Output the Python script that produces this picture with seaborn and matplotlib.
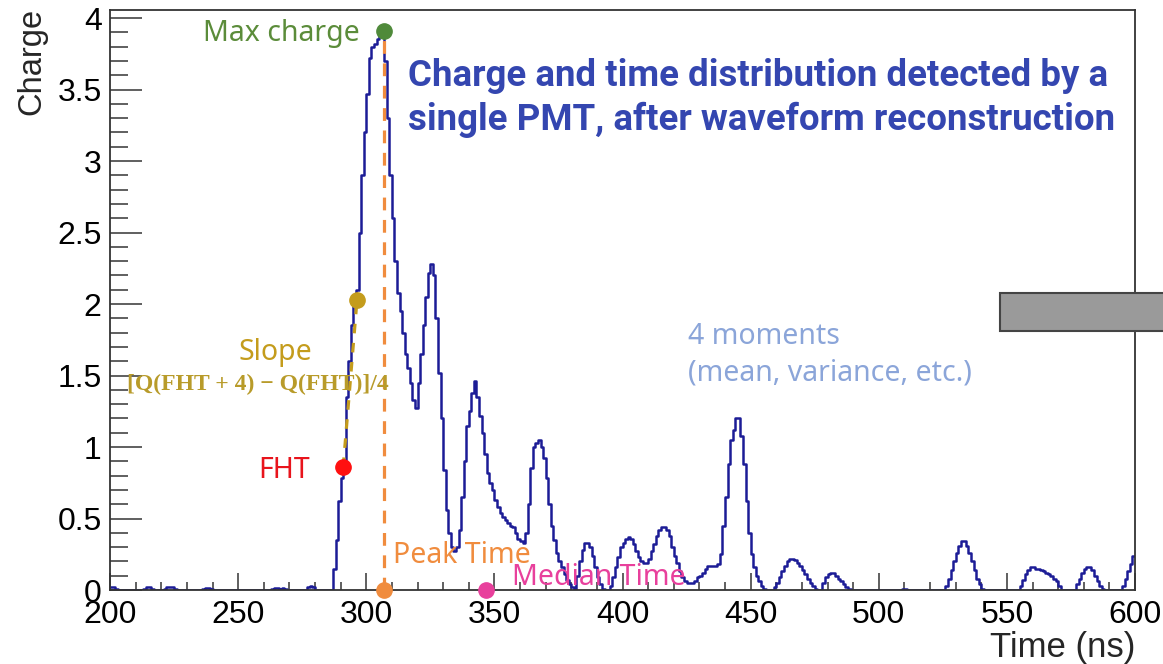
import numpy as np
import pandas as pd
import matplotlib
matplotlib.use("Agg")
import matplotlib.pyplot as plt
import matplotlib.patches as mpatches
from matplotlib.ticker import MultipleLocator, FuncFormatter
import seaborn as sns

# ---------------- data (1 ns bins, 200-600 ns) ----------------
time_start = 200
time_stop = 600
charge = [
    0.02, 0.02, 0.01, 0, 0, 0, 0, 0, 0, 0,
    0, 0, 0, 0.01, 0.02, 0.02, 0.01, 0, 0, 0,
    0, 0.01, 0.02, 0.02, 0.02, 0.01, 0, 0, 0, 0,
    0, 0, 0, 0, 0, 0, 0.01, 0.015, 0.015, 0.01,
    0, 0, 0, 0, 0, 0, 0, 0, 0, 0,
    0, 0, 0, 0, 0, 0, 0, 0, 0, 0,
    0, 0, 0, 0.01, 0.015, 0.015, 0.01, 0.015, 0.01, 0,
    0, 0, 0, 0, 0, 0, 0, 0.02, 0.03, 0.02,
    0, 0, 0, 0, 0, 0, 0, 0.15, 0.35, 0.62,
    0.78, 0.9, 1.35, 1.6, 1.85, 2.0, 2.1, 2.5, 2.9, 3.2,
    3.47, 3.72, 3.8, 3.82, 3.85, 3.88, 3.91, 3.7, 3.3, 2.9,
    2.6, 2.3, 2.08, 1.95, 1.8, 1.65, 1.55, 1.45, 1.33, 1.27,
    1.45, 1.65, 1.85, 2.05, 2.22, 2.28, 2.2, 1.9, 1.52, 1.2,
    0.84, 0.56, 0.4, 0.3, 0.27, 0.3, 0.42, 0.65, 0.9, 1.15,
    1.25, 1.38, 1.46, 1.35, 1.22, 1.1, 0.95, 0.82, 0.75, 0.7,
    0.63, 0.58, 0.54, 0.51, 0.49, 0.47, 0.45, 0.44, 0.4, 0.36,
    0.34, 0.33, 0.4, 0.6, 0.85, 1.0, 1.03, 1.05, 1.0, 0.92,
    0.78, 0.6, 0.45, 0.35, 0.26, 0.2, 0.16, 0.11, 0.07, 0.04,
    0.02, 0, 0.1, 0.2, 0.28, 0.33, 0.33, 0.3, 0.24, 0.16,
    0.09, 0.04, 0.01, 0, 0, 0.03, 0.09, 0.16, 0.23, 0.3,
    0.33, 0.36, 0.37, 0.36, 0.32, 0.27, 0.23, 0.2, 0.19, 0.19,
    0.22, 0.27, 0.32, 0.38, 0.42, 0.44, 0.44, 0.42, 0.38, 0.3,
    0.24, 0.19, 0.13, 0.09, 0.06, 0.05, 0.05, 0.05, 0.06, 0.09,
    0.1, 0.12, 0.15, 0.17, 0.17, 0.17, 0.17, 0.18, 0.25, 0.45,
    0.65, 0.88, 1.05, 1.12, 1.2, 1.2, 1.08, 0.88, 0.62, 0.4,
    0.25, 0.16, 0.1, 0.06, 0.03, 0.01, 0, 0, 0, 0.02,
    0.05, 0.09, 0.13, 0.17, 0.2, 0.22, 0.22, 0.21, 0.19, 0.17,
    0.14, 0.11, 0.08, 0.05, 0.03, 0.01, 0, 0, 0.05, 0.09,
    0.11, 0.12, 0.12, 0.1, 0.08, 0.06, 0.04, 0.02, 0.01, 0,
    0, 0, 0, 0, 0, 0, 0, 0, 0, 0,
    0, 0, 0, 0, 0, 0, 0, 0, 0, 0.005,
    0.005, 0, 0, 0, 0, 0, 0, 0, 0, 0,
    0, 0, 0, 0, 0, 0, 0.03, 0.08, 0.14, 0.2,
    0.26, 0.31, 0.34, 0.34, 0.31, 0.26, 0.2, 0.14, 0.08, 0.04,
    0.01, 0, 0, 0, 0, 0, 0, 0, 0, 0,
    0, 0, 0, 0, 0, 0.03, 0.07, 0.11, 0.14, 0.16,
    0.16, 0.15, 0.15, 0.14, 0.13, 0.12, 0.11, 0.1, 0.08, 0.06,
    0.03, 0, 0, 0, 0, 0, 0, 0.04, 0.08, 0.12,
    0.15, 0.16, 0.16, 0.14, 0.1, 0.06, 0.03, 0.01, 0, 0,
    0, 0, 0, 0, 0, 0.03, 0.08, 0.13, 0.18, 0.24,
]

# key features
fht_time, fht_charge = 291.0, 0.86
slope_time, slope_charge = 296.4, 2.03
peak_time, max_charge = 307.0, 3.91
median_time = 346.7

x_ticks = [200, 250, 300, 350, 400, 450, 500, 550, 600]

title_lines = ["Charge and time distribution detected by a",
               "single PMT, after waveform reconstruction"]

# ---------------- style ----------------
sns.set_theme(style="white")
plt.rcParams["font.family"] = ["Liberation Sans", "DejaVu Sans"]

W, H = 1163, 664
fig = plt.figure(figsize=(W / 100, H / 100), dpi=100)
ax = fig.add_axes([110 / W, 1 - 590 / H, (1135 - 110) / W, (590 - 10) / H])

df = pd.DataFrame({
    "time": np.arange(time_start, time_stop) + 0.5,
    "charge": charge,
})
sns.histplot(data=df, x="time", weights="charge", binwidth=1,
             binrange=(time_start, time_stop), element="step", fill=False,
             color="#1c1c96", linewidth=1.8, ax=ax)

ax.set_xlim(200, 600)
ax.set_ylim(0, 4.056)

# ROOT-like axes
for side, sp in ax.spines.items():
    sp.set_color("#333333")
    sp.set_linewidth(1.3)
ax.set_xticks(x_ticks)
ax.xaxis.set_minor_locator(MultipleLocator(10))
ax.yaxis.set_major_locator(MultipleLocator(0.5))
ax.yaxis.set_minor_locator(MultipleLocator(0.1))
ax.yaxis.set_major_formatter(FuncFormatter(lambda v, p: "%g" % v))
ax.tick_params(axis="both", which="both", direction="in", top=False, right=False,
               bottom=True, left=True,
               color="#444444", width=1.2, labelsize=23, labelcolor="black")
ax.tick_params(axis="x", which="major", length=12, pad=7)
ax.tick_params(axis="x", which="minor", length=6)
ax.tick_params(axis="y", which="major", length=23, pad=6)
ax.tick_params(axis="y", which="minor", length=13)

ax.set_xlabel("Time (ns)", fontsize=25, loc="right")
ax.xaxis.set_label_coords(1.0, -0.07)
ax.set_ylabel("Charge", fontsize=23.5, loc="top")
ax.yaxis.set_label_coords(-0.061, 1.004)

# ---------------- annotations ----------------
orange = "#f08c3e"
gold = "#c49c1c"
ax.plot([peak_time, peak_time], [0, max_charge], color=orange, lw=2.3,
        ls=(0, (4, 3)), zorder=3)
ax.plot([fht_time, slope_time], [fht_charge, slope_charge], color=gold, lw=2.3,
        ls=(0, (3, 3)), zorder=3)

ax.plot([peak_time], [max_charge], "o", color="#4f8a3a", ms=11, clip_on=False, zorder=5)
ax.plot([slope_time], [slope_charge], "o", color="#c49c1c", ms=11, clip_on=False, zorder=5)
ax.plot([fht_time], [fht_charge], "o", color="#ff1010", ms=11, clip_on=False, zorder=5)
ax.plot([peak_time], [0], "o", color=orange, ms=11, clip_on=False, zorder=5)
ax.plot([median_time], [0], "o", color="#e8409c", ms=11, clip_on=False, zorder=5)

ann_font = ["Noto Sans", "DejaVu Sans"]
fs = 20.5
ax.text(297.6, 3.895, "Max charge", color="#5b8c3a", fontsize=fs, ha="right",
        va="center", family=ann_font)
ax.text(316.3, 3.524, title_lines[0], color="#3446b0", fontsize=26.4,
        fontweight="bold", ha="left", va="baseline", family=["Roboto", "DejaVu Sans"])
ax.text(316.3, 3.217, title_lines[1], color="#3446b0", fontsize=26.4,
        fontweight="bold", ha="left", va="baseline", family=["Roboto", "DejaVu Sans"])
ax.text(264.4, 1.664, "Slope", color=gold, fontsize=fs, ha="center", va="center",
        family=ann_font)
ax.text(257.8, 1.434, "[Q(FHT + 4) \u2212 Q(FHT)]/4", color="#b89b2a", fontsize=17,
        fontweight="bold", ha="center", va="center",
        family=["Liberation Serif", "DejaVu Serif"])
ax.text(267.9, 0.839, "FHT", color="#e8141c", fontsize=fs, ha="center", va="center",
        family=ann_font)
ax.text(310.4, 0.238, "Peak Time", color=orange, fontsize=fs, ha="left", va="center",
        family=ann_font)
ax.text(356.9, 0.084, "Median Time", color="#e8409c", fontsize=fs, ha="left",
        va="center", family=ann_font)
ax.text(425.6, 1.776, "4 moments", color="#8ba5d9", fontsize=fs, ha="left",
        va="center", family=ann_font)
ax.text(425.6, 1.517, "(mean, variance, etc.)", color="#8ba5d9", fontsize=fs,
        ha="left", va="center", family=ann_font)

# grey box at right edge
rect = mpatches.Rectangle((1000 / W, 1 - 331 / H), 200 / W, 38 / H,
                          transform=fig.transFigure, facecolor="#9a9a9a",
                          edgecolor="#444444", linewidth=1.5, zorder=10)
fig.add_artist(rect)

fig.savefig("out.png", dpi=100)
